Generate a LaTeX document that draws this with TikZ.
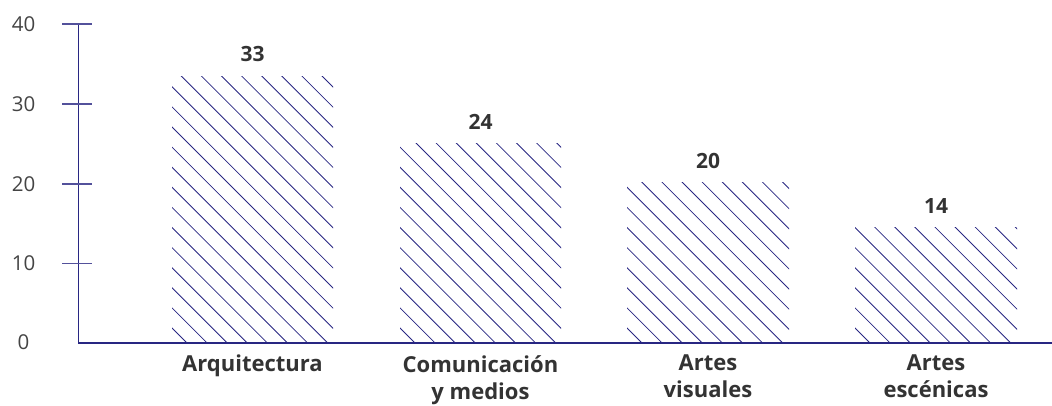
\documentclass[tikz,border=0pt]{standalone}
\usepackage{fontspec}
\setmainfont{Open Sans}
\definecolor{navy}{RGB}{40,38,130}
\definecolor{txt}{RGB}{51,51,51}
\definecolor{axtxt}{RGB}{68,68,68}
\tikzset{
  axisline/.style={draw=navy, line width=1.4pt},
  tickline/.style={draw=navy!80, line width=1.4pt},
  hatch/.style={draw=navy, line width=0.8pt},
  axlabel/.style={text=axtxt, font=\fontsize{20.5}{24}\selectfont, inner sep=0pt},
  vallabel/.style={text=txt, font=\bfseries\fontsize{21}{25}\selectfont, inner sep=0pt, anchor=base},
  catlabel/.style={text=txt, font=\bfseries\fontsize{22}{27}\selectfont, inner sep=0pt, anchor=north, align=center},
}
\newcommand{\hatchbar}[3]{%
  \begin{scope}
    \clip (#1,#2) rectangle (#3,343);
    \foreach \k in {-1,...,24} {
      \draw[hatch] ({#1+15+20.1*\k-320},23) -- ({#1+15+20.1*\k+5},348);
    }
  \end{scope}}
\begin{document}
\begin{tikzpicture}[x=1pt,y=-1pt]
\useasboundingbox (0,0) rectangle (1052,406);
% hatched bars
\hatchbar{172}{77}{333}
\hatchbar{400}{144}{561}
\hatchbar{627}{183}{789}
\hatchbar{855}{228}{1017}
% axes
\coordinate (o) at (78.5,343);
\coordinate (ytop) at (78.5,24);
\coordinate (xend) at (1052,343);
\draw[axisline] (ytop) -- (o) -- (xend);
\foreach \v/\y in {40/24,30/104,20/184,10/263.5} {
  \coordinate (tl\v) at (62,\y);
  \coordinate (tr\v) at (92,\y);
  \draw[tickline] (tl\v) -- (tr\v);
  \node[axlabel] (yl\v) at (23.5,\y) {\v};
}
\node[axlabel] (yl0) at (23.5,342.5) {0};
% values
\node[vallabel] (v1) at (252.5,62) {33};
\node[vallabel] (v2) at (480.5,129.5) {24};
\node[vallabel] (v3) at (708,168.5) {20};
\node[vallabel] (v4) at (936,213.5) {14};
% categories
\node[catlabel] (c1) at (252.5,355) {Arquitectura};
\node[catlabel] (c2) at (480.5,355) {Comunicación\\y medios};
\node[catlabel] (c3) at (708,355) {Artes\\visuales};
\node[catlabel] (c4) at (936,355) {Artes\\escénicas};
\end{tikzpicture}
\end{document}
